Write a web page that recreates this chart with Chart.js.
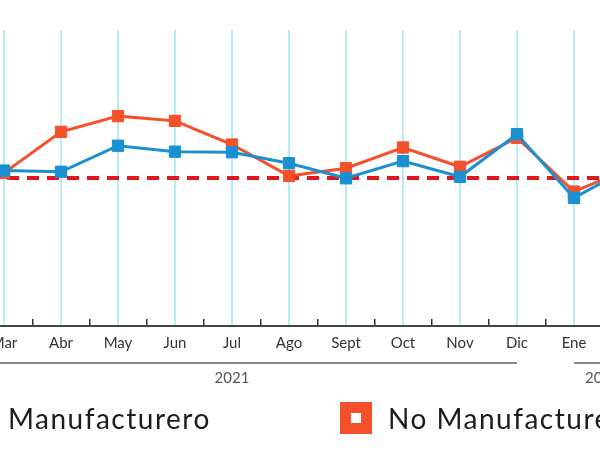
<!DOCTYPE html>
<html><head><meta charset="utf-8">
<script src="https://cdn.jsdelivr.net/npm/chart.js@4"></script>
<style>
html,body{margin:0;padding:0;background:#fff;overflow:hidden;width:600px;height:462px;position:relative;}
#wrap{position:absolute;left:-150px;top:0;width:900px;height:462px;}
#legend{position:absolute;left:0;top:0;width:600px;height:462px;pointer-events:none;}
.item{position:absolute;top:402px;display:flex;align-items:center;height:32px;font-family:Lato,sans-serif;font-size:28px;letter-spacing:1.5px;color:#1c1c1c;white-space:nowrap;}
.box{width:32px;height:32px;box-sizing:border-box;border:11px solid;background:#fff;margin-right:16px;flex:none;}
</style></head>
<body>
<div id="wrap"><canvas id="c" width="900" height="462"></canvas></div>
<div id="legend"></div>
<script>
// ---- data ----
const months = ['Feb','Mar','Abr','May','Jun','Jul','Ago','Sept','Oct','Nov','Dic','Ene','Feb'];
const manufacturero   = [50.00, 50.25, 50.21, 51.09, 50.89, 50.87, 50.50, 49.99, 50.57, 50.04, 51.48, 49.33, 50.37];
const noManufacturero = [49.60, 50.17, 51.56, 52.09, 51.93, 51.13, 50.07, 50.33, 51.03, 50.38, 51.36, 49.54, 50.34];
const threshold       = [50, 50, 50, 50, 50, 50, 50, 50, 50, 50, 50, 50, 50];
const years     = ['2021', '2022'];
const yearFirst = [0, 11];
const yearLast  = [10, 12];
const seriesNames = ['Manufacturero', 'No Manufacturero'];

const BLUE = '#1a90d1', ORANGE = '#f4502b', RED = '#e0161e';

const yearGroups = {
  id: 'yearGroups',
  afterDraw(chart) {
    const s = chart.scales.x, ctx = chart.ctx;
    ctx.save();
    ctx.strokeStyle = '#8c8c8c';
    ctx.lineWidth = 2;
    ctx.fillStyle = '#555';
    ctx.font = '15px Lato, sans-serif';
    ctx.textAlign = 'center';
    ctx.textBaseline = 'middle';
    years.forEach((y, i) => {
      const x1 = s.getPixelForValue(yearFirst[i]);
      const x2 = s.getPixelForValue(yearLast[i]);
      const ly = s.top + 37;
      ctx.beginPath(); ctx.moveTo(x1, ly); ctx.lineTo(x2, ly); ctx.stroke();
      ctx.fillText(y, (x1 + x2) / 2, s.top + 52);
    });
    ctx.restore();
  }
};

const chart = new Chart(document.getElementById('c'), {
  type: 'line',
  data: {
    labels: months,
    datasets: [
      { label: seriesNames[0], data: manufacturero, borderColor: BLUE, backgroundColor: BLUE,
        borderWidth: 3, pointStyle: 'rect', pointRadius: 8, pointBorderWidth: 1, tension: 0 },
      { label: seriesNames[1], data: noManufacturero, borderColor: ORANGE, backgroundColor: ORANGE,
        borderWidth: 3, pointStyle: 'rect', pointRadius: 8, pointBorderWidth: 1, tension: 0 },
      { label: 'umbral', data: threshold, borderColor: RED, borderWidth: 4, borderDash: [12, 8],
        pointRadius: 0, borderCapStyle: 'butt' }
    ]
  },
  options: {
    responsive: false,
    animation: false,
    devicePixelRatio: 1,
    layout: { padding: { left: 97, right: 119, top: 30, bottom: 76 } },
    plugins: { legend: { display: false }, tooltip: { enabled: false } },
    scales: {
      x: {
        type: 'category',
        position: 'bottom',
        grid: { offset: true, drawOnChartArea: false, tickLength: -7, color: '#333', lineWidth: 1.5 },
        border: { color: '#444', width: 2 },
        ticks: { color: '#333', font: { family: 'Lato', size: 15 }, padding: 15, maxRotation: 0, autoSkip: false },
        afterFit(s) { s.height = 60; }
      },
      xg: {
        type: 'category',
        position: 'top',
        ticks: { display: false },
        grid: { color: '#b5ecf4', lineWidth: 2, drawTicks: false },
        border: { display: false }
      },
      y: { display: false, min: 45, max: 55 }
    }
  },
  plugins: [yearGroups]
});

// HTML legend built from the chart's datasets
const legendLeft = [-40, 340];
const leg = document.getElementById('legend');
chart.data.datasets.slice(0, 2).forEach((ds, i) => {
  const it = document.createElement('div');
  it.className = 'item';
  it.style.left = legendLeft[i] + 'px';
  const b = document.createElement('span');
  b.className = 'box';
  b.style.borderColor = ds.borderColor;
  const t = document.createElement('span');
  t.textContent = ds.label;
  it.appendChild(b); it.appendChild(t);
  leg.appendChild(it);
});
</script>
</body></html>
